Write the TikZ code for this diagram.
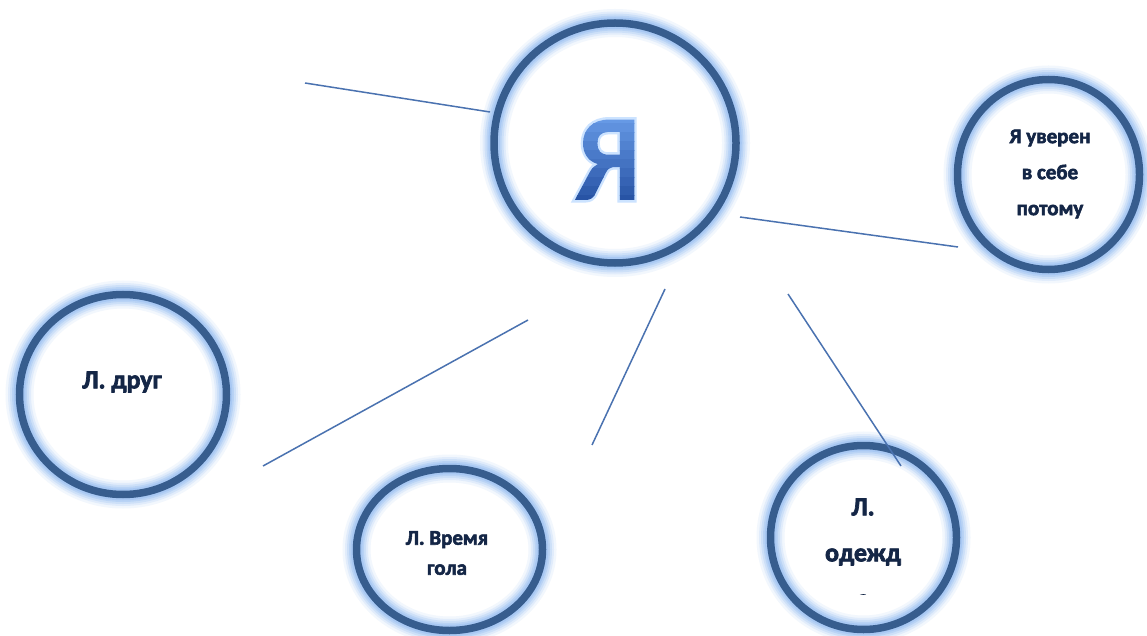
\documentclass[tikz,border=0pt]{standalone}
\usepackage{fontspec}
\setmainfont{Carlito}
\newfontfamily\heavy[FakeBold=2.6]{Carlito Bold}
\usetikzlibrary{shapes.geometric}
\definecolor{ringc}{RGB}{55,93,142}
\definecolor{glowc}{RGB}{150,190,242}
\definecolor{linec}{RGB}{74,114,176}
\definecolor{txtc}{RGB}{20,38,70}
\definecolor{yac}{RGB}{58,108,194}
\newcommand{\yabands}{%
\special{pdf:literal
0.40 0.60 0.90 rg -85 76 95 10 re f
0.373 0.57 0.872 rg -85 67 95 10 re f
0.346 0.54 0.844 rg -85 58 95 10 re f
0.319 0.51 0.816 rg -85 49 95 10 re f
0.292 0.48 0.788 rg -85 40 95 10 re f
0.265 0.45 0.760 rg -85 31 95 10 re f
0.238 0.42 0.732 rg -85 22 95 10 re f
0.211 0.39 0.704 rg -85 13 95 10 re f
0.184 0.36 0.676 rg -85 4 95 10 re f
0.157 0.33 0.648 rg -85 -8 95 13 re f}}
\begin{document}
\begin{tikzpicture}[x=1pt,y=-1pt,
 ring/.style={ellipse, inner sep=0pt, outer sep=0pt,
   preaction={draw=glowc, draw opacity=0.12, line width=28pt},
   preaction={draw=glowc, draw opacity=0.18, line width=23pt},
   preaction={draw=glowc, draw opacity=0.26, line width=19pt},
   preaction={draw=glowc, draw opacity=0.36, line width=15pt},
   preaction={draw=glowc, draw opacity=0.48, line width=11.5pt},
   draw=ringc, line width=7.5pt},
 lbl/.style={text=txtc, align=center, inner sep=0pt},
 conn/.style={draw=linec, line width=1.5pt}]
\useasboundingbox[fill=white] (0,0) rectangle (1147,636);

\node[ring, minimum width=242pt, minimum height=240pt] (ya) at (615,143) {};
\node[ring, minimum width=182pt, minimum height=190pt] (conf) at (1048.5,174.5) {};
\node[ring, minimum width=207pt, minimum height=200pt] (drug) at (123,394.5) {};
\node[ring, minimum width=186pt, minimum height=162pt] (vrem) at (449.5,549.5) {};
\node[ring, minimum width=186pt, minimum height=184pt] (odez) at (863.5,537.5) {};

\node[anchor=base, inner sep=0pt, text=yac, xscale=0.92, transform shape,
      font=\fontsize{124}{124}\selectfont\bfseries] (yatxt) at (608,200)
      {\special{pdf:literal direct 1 Tr 5 w 0.80 0.89 1 RG}\rlap{Я}\special{pdf:literal direct 0 Tr q 7 Tr}Я\yabands\special{pdf:literal direct Q 0 Tr}};

\node[lbl, font=\fontsize{21}{36}\selectfont\heavy] (conftxt) at (1050,174) {Я уверен\\в себе\\потому};
\node[lbl, font=\fontsize{26}{30}\selectfont\heavy] (drugtxt) at (122,382) {Л. друг};
\node[lbl, font=\fontsize{21}{30}\selectfont\heavy] (vremtxt) at (447,553) {Л. Время\\гола};
\begin{scope}
  \clip (760,440) rectangle (970,594);
  \node[lbl, font=\fontsize{26}{46}\selectfont\heavy] (odeztxt) at (863,553) {Л.\\одежд\\а};
\end{scope}

\coordinate (c1a) at (305,83);
\coordinate (c1b) at (490,112);
\coordinate (c2a) at (740,217);
\coordinate (c2b) at (958,247);
\coordinate (c3a) at (528,320);
\coordinate (c3b) at (263,466);
\coordinate (c4a) at (665,289);
\coordinate (c4b) at (592,445);
\coordinate (c5a) at (788,294);
\coordinate (c5b) at (901,466);
\draw[conn] (c1a) -- (c1b);
\draw[conn] (c2a) -- (c2b);
\draw[conn] (c3a) -- (c3b);
\draw[conn] (c4a) -- (c4b);
\draw[conn] (c5a) -- (c5b);
\end{tikzpicture}
\end{document}
